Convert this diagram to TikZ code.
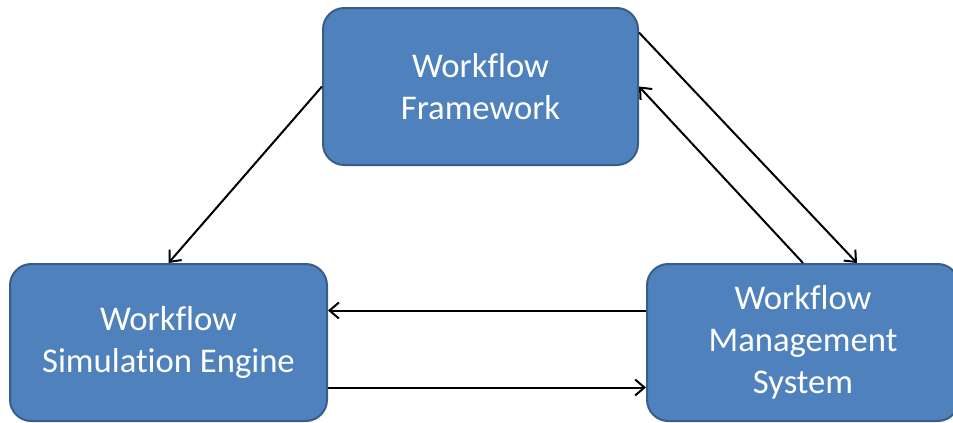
\documentclass[tikz,border=0pt]{standalone}
\usepackage{fontspec}
\setmainfont{Carlito}[Ligatures=NoCommon]
\usetikzlibrary{arrows.meta,calc}
\definecolor{boxfill}{RGB}{79,129,189}
\definecolor{boxline}{RGB}{56,93,138}
\tikzset{every picture/.style={line width=0.75pt}}
\tikzset{
  flowbox/.style={draw=boxline, fill=boxfill, line width=1.5pt, rounded corners=16pt,
    minimum height=117.75pt, text=white, align=center, font=\fontsize{26}{31.5}\selectfont},
  link/.style={draw=black, line width=1.5pt, -{Straight Barb[length=7pt,width=12pt,line width=1.5pt]}}
}

\begin{document}
\begin{tikzpicture}[x=0.75pt,y=0.75pt,yscale=-1,xscale=1]
\useasboundingbox (0,0) rectangle (953,422);

%Shape: Rounded Rect [id:framework]
\node [flowbox, minimum width=236.25pt] (frame) at (480.5,86.5) {Workflow\\Framework};
%Shape: Rounded Rect [id:engine]
\node [flowbox, minimum width=237.75pt] (engine) at (168.5,342.5) {Workflow\\Simulation Engine};
%Shape: Rounded Rect [id:wfms]
\node [flowbox, minimum width=234pt] (wfms) at (803,342.5) {Workflow\\Management\\System};

%Straight Lines [id:frame-engine]
\draw [link] (frame.west) -- (engine.north);
%Straight Lines [id:frame-wfms]
\draw [link] ($(frame.east)+(0,-54)$) -- ($(wfms.north)+(54,0)$);
%Straight Lines [id:wfms-frame]
\draw [link] (wfms.north) -- (frame.east);
%Straight Lines [id:wfms-engine]
\coordinate (upper) at ($(wfms.west)+(0,-32)$);
\draw [link] (upper) -- (engine.east |- upper);
%Straight Lines [id:engine-wfms]
\coordinate (lower) at ($(engine.east)+(0,45)$);
\draw [link] (lower) -- (wfms.west |- lower);

\end{tikzpicture}
\end{document}
